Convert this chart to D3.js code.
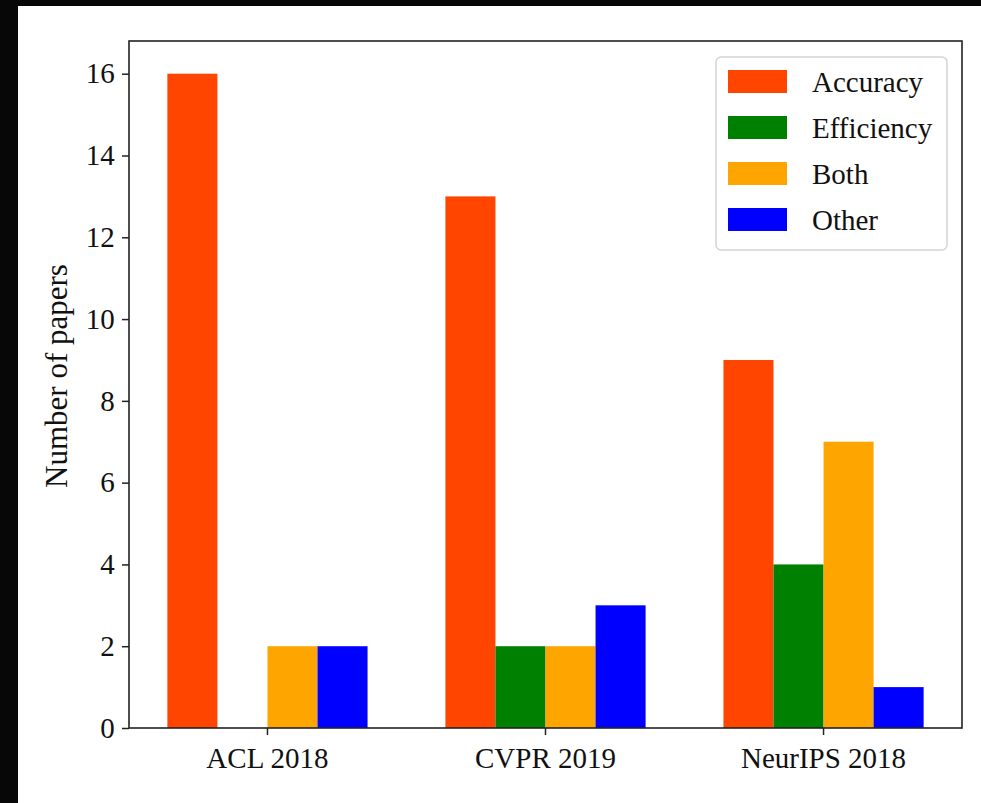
<!DOCTYPE html>
<html>
<head>
<meta charset="utf-8">
<script src="https://cdn.jsdelivr.net/npm/d3@7"></script>
<style>
  body { margin: 0; background: #070707; }
  text { font-family: "Liberation Serif", "Times New Roman", serif; fill: #111; }
</style>
</head>
<body>
<div id="chart"></div>
<script>
// venues on the x axis
var venues = ["ACL 2018", "CVPR 2019", "NeurIPS 2018"];
// kinds of paper, one bar each
var kinds = ["Accuracy", "Efficiency", "Both", "Other"];
var kindColors = ["#ff4500", "#008000", "#ffa500", "#0000ff"];
// counts per kind, in venue order
var accuracy = [16, 13, 9];
var efficiency = [0, 2, 4];
var both = [2, 2, 7];
var other = [2, 3, 1];
var yTicks = [0, 2, 4, 6, 8, 10, 12, 14, 16];

var totalWidth = 981, totalHeight = 803;
var plotLeft = 129, plotRight = 962, plotTop = 41, plotBottom = 728;

var svg = d3.select("#chart").append("svg")
    .attr("width", totalWidth).attr("height", totalHeight);

// white page, black frame only on left and top
svg.append("rect").attr("x", 18).attr("y", 6)
    .attr("width", totalWidth - 18).attr("height", totalHeight - 6)
    .attr("fill", "white");

var series = [accuracy, efficiency, both, other];

var x0 = d3.scaleBand().domain(venues).range([plotLeft, plotRight])
    .paddingInner(0.28).paddingOuter(0.138);
var x1 = d3.scaleBand().domain(kinds).range([0, x0.bandwidth()]);
var y = d3.scaleLinear().domain([0, 16.8]).range([plotBottom, plotTop]);

var groups = svg.append("g").selectAll("g")
    .data(venues)
    .enter().append("g")
    .attr("transform", function (v) { return "translate(" + x0(v) + ",0)"; });

groups.selectAll("rect")
    .data(function (v, i) {
        return kinds.map(function (k, j) { return {kind: k, value: series[j][i], color: kindColors[j]}; });
    })
    .enter().append("rect")
    .attr("x", function (d) { return x1(d.kind); })
    .attr("width", x1.bandwidth())
    .attr("y", function (d) { return y(d.value); })
    .attr("height", function (d) { return y(0) - y(d.value); })
    .attr("fill", function (d) { return d.color; });

// axes
var xAxis = svg.append("g").attr("transform", "translate(0," + plotBottom + ")")
    .call(d3.axisBottom(x0).tickSize(7).tickSizeOuter(0));
xAxis.selectAll("text").attr("font-size", 29).attr("dy", "1.05em");

var yAxis = svg.append("g").attr("transform", "translate(" + plotLeft + ",0)")
    .call(d3.axisLeft(y).tickValues(yTicks).tickSize(7).tickSizeOuter(0));
yAxis.selectAll("text").attr("font-size", 29).attr("dx", "-0.15em");

svg.selectAll(".domain").remove();
svg.selectAll(".tick line").attr("stroke", "#222").attr("stroke-width", 1.5);

// frame round the plot
svg.append("rect").attr("x", plotLeft).attr("y", plotTop)
    .attr("width", plotRight - plotLeft).attr("height", plotBottom - plotTop)
    .attr("fill", "none").attr("stroke", "#222").attr("stroke-width", 1.6);

svg.append("text")
    .attr("transform", "translate(67,376) rotate(-90)")
    .attr("text-anchor", "middle")
    .attr("font-size", 31)
    .text("Number of papers");

// legend
var legend = svg.append("g").attr("transform", "translate(716,57)");
legend.append("rect").attr("width", 231).attr("height", 193)
    .attr("rx", 5).attr("fill", "white").attr("stroke", "#d4d4d4").attr("stroke-width", 1.5);
var rows = legend.selectAll("g.row").data(kinds).enter().append("g")
    .attr("class", "row")
    .attr("transform", function (k, i) { return "translate(12," + (13 + i * 46) + ")"; });
rows.append("rect").attr("width", 59).attr("height", 23)
    .attr("fill", function (k, i) { return kindColors[i]; });
rows.append("text").attr("x", 84).attr("y", 11.5).attr("dy", "0.35em")
    .attr("font-size", 29).text(function (k) { return k; });
</script>
</body>
</html>
